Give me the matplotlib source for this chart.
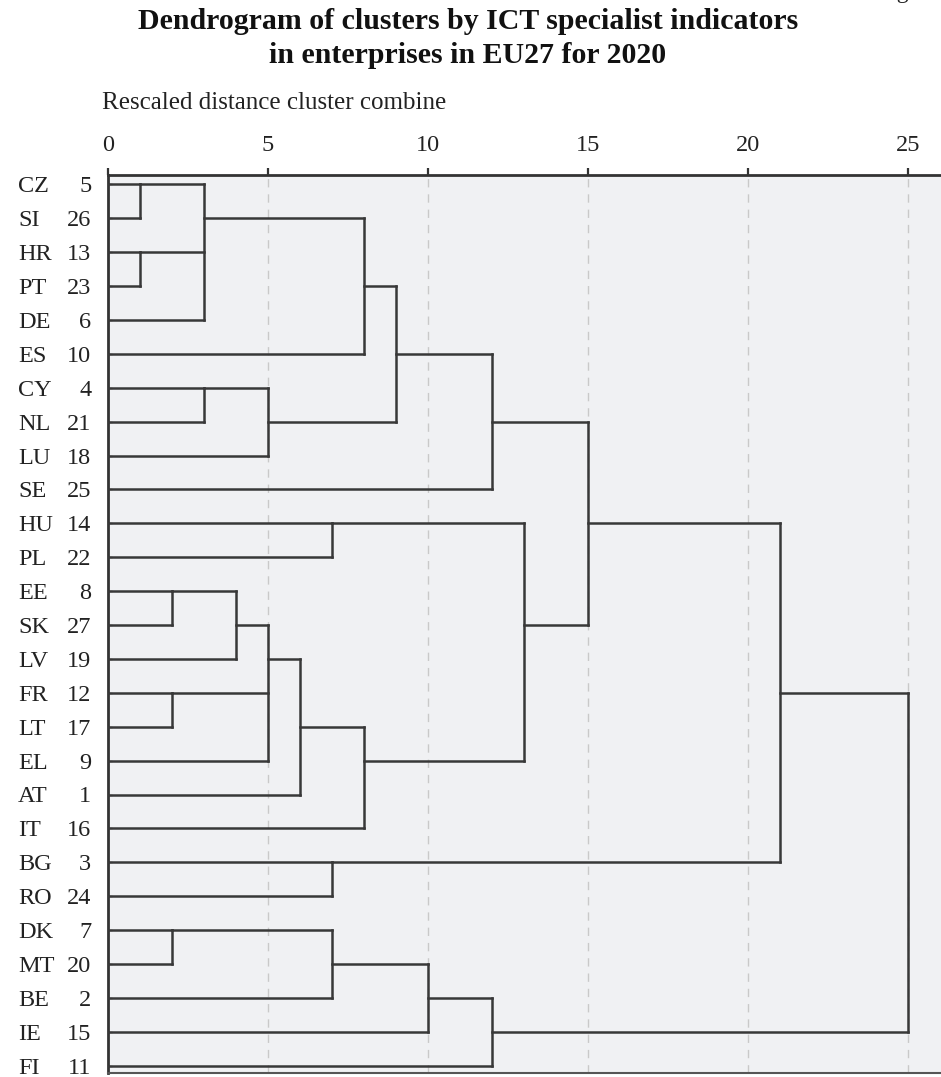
import matplotlib
matplotlib.use("Agg")
import matplotlib.pyplot as plt

# ---------------- data ----------------
countries = ["CZ", "SI", "HR", "PT", "DE", "ES", "CY", "NL", "LU", "SE",
             "HU", "PL", "EE", "SK", "LV", "FR", "LT", "EL", "AT", "IT",
             "BG", "RO", "DK", "MT", "BE", "IE", "FI"]
case_numbers = [5, 26, 13, 23, 6, 10, 4, 21, 18, 25,
                14, 22, 8, 27, 19, 12, 17, 9, 1, 16,
                3, 24, 7, 20, 2, 15, 11]
# rescaled distance at which each leaf first joins a cluster
leaf_join = [1, 1, 1, 1, 3, 8, 3, 3, 5, 12,
             7, 7, 2, 2, 4, 2, 2, 5, 6, 8,
             7, 7, 2, 2, 7, 10, 12]
# merges: rescaled distance, first row, last row, row of outgoing line, parent distance
merge_dist = [1, 1, 3, 8, 3, 5, 9, 12, 7, 2, 4, 2, 5, 6, 8, 13, 15, 7, 21, 2, 7, 10, 12, 25]
merge_top = [0, 2, 0, 1, 6, 6, 3, 5, 10, 12, 12, 15, 13, 14, 16, 10, 7, 20, 10, 22, 22, 23, 24, 15]
merge_bottom = [1, 3, 4, 5, 7, 8, 7, 9, 11, 13, 14, 16, 17, 18, 19, 17, 13, 21, 20, 23, 24, 25, 26, 25]
merge_out_row = [0, 2, 1, 3, 6, 7, 5, 7, 10, 12, 13, 15, 14, 16, 17, 13, 10, 20, 15, 22, 23, 24, 25, None]
merge_parent = [3, 3, 8, 9, 5, 9, 12, 15, 13, 4, 5, 5, 6, 8, 13, 15, 21, 21, 25, 7, 10, 12, 25, None]
x_ticks = [0, 5, 10, 15, 20, 25]

title = "Dendrogram of clusters by ICT specialist indicators\nin enterprises in EU27 for 2020"
axis_caption = "Rescaled distance cluster combine"

# ---------------- figure ----------------
W, H = 941, 1077
fig = plt.figure(figsize=(W / 100, H / 100), dpi=100)
serif = ["Liberation Serif", "DejaVu Serif"]

ax_left, ax_top, ax_bottom = 108, 175, 1073
ax = fig.add_axes([ax_left / W, 1 - ax_bottom / H, 1 - ax_left / W, (ax_bottom - ax_top) / H])
ax.set_facecolor("#f0f1f3")
px_per_unit = 32.0
row_px = 33.9
ax.set_xlim(0, (W - ax_left) / px_per_unit)
first_row_px = 184.3
ax.set_ylim((ax_bottom - first_row_px) / row_px, (ax_top - first_row_px) / row_px)

line_kw = dict(color="#383838", lw=1.8, solid_capstyle="projecting", zorder=3)

# grid
for t in x_ticks[1:]:
    ax.axvline(t, color="#c9c9c9", lw=1.0, linestyle=(0, (6, 5)), zorder=1)

# leaves
for r, d in enumerate(leaf_join):
    ax.plot([0, d], [r, r], **line_kw)

# merges
for d, top, bot, out, par in zip(merge_dist, merge_top, merge_bottom, merge_out_row, merge_parent):
    ax.plot([d, d], [top, bot], **line_kw)
    if out is not None and par is not None:
        ax.plot([d, par], [out, out], **line_kw)

# axes styling
ax.xaxis.tick_top()
ax.set_xticks(x_ticks)
ax.set_xticklabels([str(t) for t in x_ticks], fontfamily=serif, fontsize=17.5, color="#222222")
ax.tick_params(axis="x", direction="out", length=5, width=1.6, color="#333333", pad=9)
ax.set_yticks(range(len(countries)))
ax.set_yticklabels([str(n) for n in case_numbers], fontfamily=serif, fontsize=17.5, color="#222222")
ax.tick_params(axis="y", direction="in", length=3, width=1.0, color="#555555", pad=12)
ytr = ax.get_yaxis_transform()
code_x = (18 - ax_left) / (W - ax_left)
for r, c in enumerate(countries):
    ax.text(code_x, r, c, transform=ytr, ha="left", va="center_baseline",
            fontfamily=serif, fontsize=17.5, color="#222222", clip_on=False)

for side in ["left", "top"]:
    ax.spines[side].set_color("#333333")
    ax.spines[side].set_linewidth(2.0)
ax.spines["bottom"].set_color("#555555")
ax.spines["bottom"].set_linewidth(1.5)
ax.spines["right"].set_visible(False)

# texts
fig.text(0.497, 1 - 38.5 / H, title, ha="center", va="center", fontfamily=serif,
         fontsize=21.5, fontweight="bold", color="#111111", linespacing=1.35)
fig.text(102 / W, 1 - 103 / H, axis_caption, ha="left", va="center", fontfamily=serif,
         fontsize=18, color="#222222")
fig.text(877 / W, 1 + 2 / H, "Figure", ha="left", va="baseline", fontfamily=serif,
         fontsize=17, color="#222222")

fig.savefig("out.png", dpi=100)
